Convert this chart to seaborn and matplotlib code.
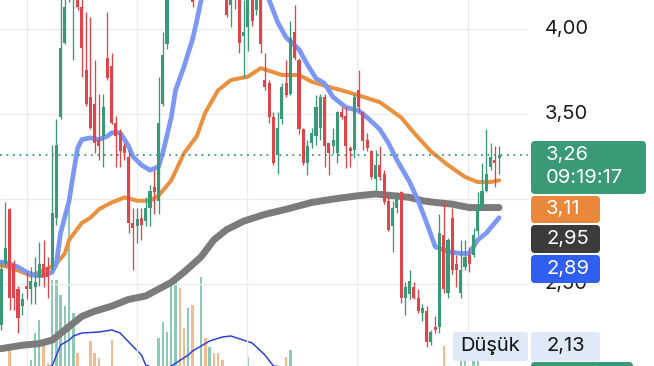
import numpy as np
import pandas as pd
import matplotlib
matplotlib.use("Agg")
import matplotlib.pyplot as plt
import matplotlib.transforms as mtransforms
from matplotlib.patches import FancyBboxPatch
import seaborn as sns

# ---- daily OHLC (price, TRY) ----
opens = [2.26, 2.62, 2.94, 2.62, 2.47, 2.37, 2.49, 2.47, 2.48, 2.54,
         2.62, 2.60, 2.60, 2.89, 3.48, 3.92, 4.20, 4.22, 4.32, 4.13,
         3.76, 3.60, 3.56, 3.35, 3.37, 3.83, 3.78, 3.45, 3.39, 3.31,
         3.25, 2.86, 2.84, 2.89, 2.87, 2.95, 3.07, 2.99, 3.56, 3.91,
         4.23, 4.33, 4.45, 4.36, 4.24, 4.28, 4.18, 4.34, 4.52, 4.44,
         4.56, 4.46, 4.36, 4.26, 4.14, 4.29, 4.17, 3.96, 4.01, 4.20,
         4.11, 4.17, 3.70, 3.68, 3.48, 3.26, 3.47, 3.68, 3.62, 3.98,
         3.82, 3.41, 3.21, 3.33, 3.37, 3.42, 3.60, 3.33, 3.31, 3.27,
         3.51, 3.49, 3.30, 3.29, 3.64, 3.51, 3.35, 3.28, 3.12, 3.20,
         3.15, 2.99, 2.84, 2.95, 3.04, 2.42, 2.44, 2.48, 2.42, 2.33,
         2.34, 2.16, 2.25, 2.25, 2.79, 2.45, 2.89, 2.62, 2.45, 2.60,
         2.67, 2.67, 2.81, 2.95, 3.05, 3.19, 3.23, 3.24]
highs = [2.63, 2.98, 2.95, 2.64, 2.49, 2.45, 2.57, 2.60, 2.66, 2.75,
         2.76, 2.66, 3.32, 3.47, 4.23, 4.29, 4.45, 4.42, 4.38, 4.19,
         4.10, 4.07, 3.82, 3.62, 3.62, 4.10, 3.86, 3.49, 3.41, 3.33,
         3.29, 2.95, 2.95, 2.95, 3.01, 3.08, 3.17, 3.72, 3.98, 4.29,
         4.40, 4.50, 4.52, 4.40, 4.34, 4.32, 4.38, 4.58, 4.60, 4.62,
         4.60, 4.50, 4.42, 4.29, 4.26, 4.32, 4.20, 4.17, 4.23, 4.23,
         4.28, 4.20, 3.86, 3.70, 3.51, 3.51, 3.68, 3.82, 4.05, 4.14,
         3.83, 3.42, 3.35, 3.42, 3.61, 3.62, 3.62, 3.33, 3.42, 3.52,
         3.54, 3.54, 3.31, 3.62, 3.76, 3.52, 3.39, 3.29, 3.29, 3.31,
         3.17, 3.02, 2.99, 3.04, 3.05, 2.51, 2.58, 2.51, 2.47, 2.38,
         2.37, 2.23, 2.31, 2.91, 2.98, 2.77, 2.95, 2.67, 2.76, 2.76,
         2.72, 2.83, 3.04, 3.21, 3.41, 3.33, 3.31, 3.31]
lows = [2.23, 2.60, 2.35, 2.35, 2.21, 2.32, 2.41, 2.38, 2.38, 2.49,
        2.48, 2.42, 2.58, 2.85, 3.47, 3.91, 4.16, 3.82, 4.11, 3.72,
        3.55, 3.41, 3.27, 3.23, 3.19, 3.70, 3.44, 3.19, 3.19, 3.23,
        2.80, 2.58, 2.74, 2.76, 2.84, 2.84, 2.91, 2.91, 3.55, 3.88,
        4.20, 4.28, 4.30, 4.20, 4.19, 4.13, 4.18, 4.30, 4.40, 4.40,
        4.40, 4.30, 4.24, 4.07, 4.01, 4.12, 3.86, 3.71, 3.87, 4.02,
        4.08, 3.86, 3.64, 3.45, 3.20, 3.15, 3.44, 3.60, 3.61, 3.82,
        3.38, 3.20, 3.14, 3.30, 3.32, 3.35, 3.19, 3.14, 3.27, 3.21,
        3.47, 3.18, 3.19, 3.24, 3.51, 3.29, 3.28, 3.12, 3.05, 3.11,
        2.97, 2.81, 2.69, 2.92, 2.39, 2.32, 2.41, 2.41, 2.33, 2.28,
        2.13, 2.14, 2.21, 2.21, 2.45, 2.42, 2.56, 2.48, 2.42, 2.58,
        2.57, 2.66, 2.79, 2.94, 3.04, 3.17, 3.07, 3.15]
closes = [2.59, 2.71, 2.42, 2.42, 2.30, 2.41, 2.47, 2.52, 2.51, 2.62,
          2.54, 2.54, 2.92, 3.32, 3.89, 4.13, 4.38, 4.35, 4.13, 3.89,
          3.56, 3.42, 3.33, 3.31, 3.54, 3.71, 3.45, 3.37, 3.28, 3.27,
          2.86, 2.83, 2.88, 2.85, 2.95, 3.05, 3.04, 3.45, 3.85, 4.23,
          4.33, 4.45, 4.36, 4.26, 4.30, 4.16, 4.34, 4.52, 4.44, 4.56,
          4.46, 4.36, 4.28, 4.08, 4.20, 4.18, 3.92, 3.98, 4.17, 4.05,
          4.23, 3.91, 3.66, 3.48, 3.21, 3.42, 3.66, 3.61, 3.95, 3.83,
          3.41, 3.21, 3.31, 3.39, 3.54, 3.60, 3.31, 3.27, 3.35, 3.51,
          3.48, 3.31, 3.28, 3.60, 3.54, 3.34, 3.30, 3.13, 3.20, 3.13,
          2.98, 2.82, 2.95, 3.01, 2.42, 2.48, 2.52, 2.42, 2.34, 2.36,
          2.16, 2.22, 2.23, 2.80, 2.47, 2.76, 2.58, 2.58, 2.58, 2.66,
          2.62, 2.79, 2.95, 3.05, 3.15, 3.25, 3.21, 3.26]
volumes = [0.4, 0.5, 2.2, 0.3, 0.5, 0.4, 0.3, 1.2, 3.9, 5.2,
           3.2, 0.9, 9.2, 9.2, 7.7, 6.6, 16.5, 5.9, 1.9, 0.4,
           0.5, 3.1, 1.9, 1.4, 0.5, 0.4, 3.2, 0.5, 0.4, 0.3,
           0.5, 0.4, 0.3, 0.4, 0.3, 0.5, 0.4, 3.4, 5.0, 4.0,
           9.2, 9.0, 8.4, 4.4, 6.4, 6.7, 0.5, 9.5, 3.4, 2.5,
           1.9, 1.9, 1.2, 0.5, 0.4, 0.3, 0.5, 0.4, 1.5, 0.4,
           0.3, 0.5, 0.4, 0.3, 0.5, 0.4, 0.3, 1.5, 2.2, 0.4,
           0.5, 0.4, 0.3, 0.4, 0.5, 0.3, 0.4, 0.5, 0.3, 0.4,
           0.3, 0.5, 0.4, 0.3, 0.4, 0.5, 0.3, 0.4, 0.3, 0.5,
           0.4, 0.3, 0.5, 0.4, 0.3, 0.5, 0.4, 0.3, 0.4, 0.5,
           0.3, 0.4, 0.5, 0.3, 2.6, 0.4, 0.5, 0.3, 1.3, 1.3,
           0.4, 1.3, 1.3, 0.5, 0.4, 0.3, 0.5, 0.4]

# ---- moving averages (bar index, value) ----
ma_fast_idx = [0, 2, 4, 6, 8, 10, 12, 13, 14, 16, 17, 18, 19, 21, 23, 25, 26, 28, 30,
               31, 33, 35, 37, 38, 40, 41, 43, 45, 46, 47, 50, 55, 60, 63, 65, 67, 70,
               72, 74, 76, 78, 81, 84, 86, 89, 91, 93, 96, 98, 100, 102, 105, 108, 110,
               112, 114, 117]
ma_fast = [2.63, 2.62, 2.60, 2.57, 2.55, 2.55, 2.57, 2.62, 2.80, 2.99, 3.15, 3.30, 3.35,
           3.36, 3.35, 3.37, 3.39, 3.39, 3.31, 3.25, 3.20, 3.17, 3.19, 3.27, 3.48, 3.64,
           3.78, 3.94, 4.05, 4.17, 4.35, 4.44, 4.35, 4.17, 4.04, 3.95, 3.88, 3.79, 3.71,
           3.68, 3.60, 3.54, 3.52, 3.48, 3.41, 3.33, 3.23, 3.10, 2.99, 2.86, 2.72, 2.69,
           2.68, 2.68, 2.76, 2.80, 2.89]
ma_mid_idx = [0, 2, 4, 7, 9, 11, 13, 15, 16, 19, 21, 23, 26, 29, 32, 35, 37, 40, 43, 46,
              48, 51, 54, 58, 61, 66, 70, 73, 77, 80, 84, 89, 94, 97, 101, 105, 109, 112,
              115, 117]
ma_mid = [2.61, 2.60, 2.58, 2.55, 2.57, 2.59, 2.62, 2.68, 2.76, 2.86, 2.89, 2.94, 2.98,
          3.01, 2.99, 2.99, 3.02, 3.11, 3.27, 3.37, 3.51, 3.64, 3.70, 3.72, 3.77, 3.73,
          3.73, 3.69, 3.66, 3.64, 3.61, 3.57, 3.48, 3.39, 3.28, 3.20, 3.13, 3.10, 3.10,
          3.11]
ma_slow_idx = [0, 5, 9, 12, 14, 16, 19, 22, 26, 30, 34, 37, 40, 43, 47, 50, 53, 57, 62,
               67, 73, 78, 84, 88, 92, 96, 99, 102, 106, 110, 114, 117]
ma_slow = [2.12, 2.14, 2.15, 2.17, 2.21, 2.25, 2.31, 2.34, 2.37, 2.41, 2.43, 2.47, 2.51,
           2.57, 2.66, 2.76, 2.82, 2.87, 2.91, 2.94, 2.98, 3.00, 3.02, 3.03, 3.02, 3.01,
           2.99, 2.98, 2.97, 2.95, 2.95, 2.95]
vol_ma_idx = [0, 8, 12, 14, 16, 17, 19, 23, 26, 28, 30, 33, 34, 37, 40, 44, 45, 47, 49,
              52, 54, 59, 62, 64, 70, 80, 90, 100, 110, 117]
vol_ma = [0.2, 0.3, 0.6, 2.7, 3.2, 3.6, 3.9, 4.0, 4.2, 3.9, 3.0, 1.7, 0.7, 0.2, 0.6, 1.7,
          2.1, 2.6, 3.1, 3.5, 3.6, 2.9, 1.7, 0.6, 0.3, 0.2, 0.2, 0.3, 0.3, 0.4]

last_price = 3.26
last_time = "09:19:17"
session_low = 2.13
price_ticks = [4.00, 3.50, 3.00, 2.50]

GREEN = "#3a9a78"
RED = "#e0454b"
BLUE_MA = "#7d97f4"
ORANGE_MA = "#ea9140"
GRAY_MA = "#7b7b7b"
VOL_LINE = "#2f3fe0"
FONT = "Inter"

sns.set_theme(style="white")
plt.rcParams["font.family"] = [FONT, "DejaVu Sans"]

W, H = 654, 366
AX_W = 528
fig = plt.figure(figsize=(W / 100, H / 100), dpi=100)
fig.patch.set_facecolor("white")

XLIM = (-0.235, 123.8)

# volume pane sits behind the price pane, its baseline just under the frame
ax_vol = fig.add_axes([0, -6 / H, AX_W / W, 200 / H])
ax_vol.set_xlim(*XLIM)
ax_vol.set_ylim(0, 20)
ax_vol.axis("off")

ax = fig.add_axes([0, 0, AX_W / W, 1])
ax.set_facecolor("none")
ax.set_xlim(*XLIM)
ax.set_ylim(2.018, 4.171)
for s in ax.spines.values():
    s.set_visible(False)
ax.set_xticks([])
ax.set_yticks([])

df = pd.DataFrame({"open": opens, "high": highs, "low": lows, "close": closes,
                   "volume": volumes})
df["idx"] = np.arange(len(df))
df["up"] = df["close"] >= df["open"]
colors = np.where(df["up"], GREEN, RED)

# grid
for g in [6.1, 32.0, 57.8, 83.7, 109.7]:
    ax.axvline(g, color="#ececec", lw=1.0, zorder=0)
for t in price_ticks:
    ax.axhline(t, color="#ececec", lw=1.0, zorder=0)

# volume bars and their average
ax_vol.bar(df["idx"], df["volume"], width=0.55,
           color=np.where(df["up"], "#8ccab4", "#f3bb8f"), linewidth=0, zorder=1)
sns.lineplot(x=vol_ma_idx, y=vol_ma, ax=ax_vol, color=VOL_LINE, lw=1.1,
             estimator=None, sort=False, zorder=2)

# moving averages
sns.lineplot(x=ma_slow_idx, y=ma_slow, ax=ax, color=GRAY_MA, lw=5.0,
             estimator=None, sort=False, zorder=2, solid_capstyle="round")
sns.lineplot(x=ma_mid_idx, y=ma_mid, ax=ax, color=ORANGE_MA, lw=2.9,
             estimator=None, sort=False, zorder=2.2, solid_capstyle="round")
sns.lineplot(x=ma_fast_idx, y=ma_fast, ax=ax, color=BLUE_MA, lw=3.4,
             estimator=None, sort=False, zorder=2.4, solid_capstyle="round")

# last price line
ax.axhline(last_price, color=GREEN, lw=1.3, ls=(0, (1, 2.6)), zorder=2.6)

# candles
ax.vlines(df["idx"], df["low"], df["high"], colors=colors, lw=0.95, zorder=3)
body = np.maximum((df["close"] - df["open"]).abs(), 0.007)
ax.bar(df["idx"], body, bottom=np.minimum(df["open"], df["close"]), width=0.72,
       color=colors, zorder=3.1, linewidth=0)

# price scale labels (3,00 sits under the value tags)
tick_tf = mtransforms.blended_transform_factory(ax.transAxes, ax.transData)
for t in price_ticks:
    if t == 3.00:
        continue
    ax.text(545 / AX_W, t, f"{t:.2f}".replace(".", ","), transform=tick_tf,
            ha="left", va="center", fontsize=14.5, color="#1c1c1c",
            clip_on=False, zorder=1)

# label boxes on the right, laid out in pixel space
px = mtransforms.Affine2D().scale(1 / W, -1 / H).translate(0, 1) + fig.transFigure


def tag(x0, y0, x1, y1, color, z=5, r=4):
    p = FancyBboxPatch((x0, y0), x1 - x0, y1 - y0,
                       boxstyle=f"round,pad=0,rounding_size={r}",
                       transform=px, fc=color, ec="none", zorder=z)
    fig.add_artist(p)


def label(x, y, s, color, z=6):
    fig.text(x / W, 1 - y / H, s, ha="left", va="center", fontsize=14.5,
             color=color, zorder=z)


tag(531, 141, 646, 194, GREEN)
label(546, 155, f"{last_price:.2f}".replace(".", ","), "white")
label(546, 178, last_time, "white")

tag(531, 196, 600, 223, "#e9873a")
label(546, 209, f"{ma_mid[-1]:.2f}".replace(".", ","), "white")
tag(531, 225, 600, 253, "#3b3b3b")
label(546, 239, f"{ma_slow[-1]:.2f}".replace(".", ","), "white")
tag(531, 255, 600, 283, "#2f5ef0")
label(546, 269, f"{ma_fast[-1]:.2f}".replace(".", ","), "white")

tag(453, 332, 528, 361, "#dfe9f7", r=3)
label(460, 346, "Düşük", "#151515")
tag(531, 332, 600, 361, "#dfe9f7", r=3)
label(546, 346, f"{session_low:.2f}".replace(".", ","), "#151515")

tag(531, 362, 633, 372, GREEN)

fig.savefig("out.png", dpi=100, facecolor="white")
